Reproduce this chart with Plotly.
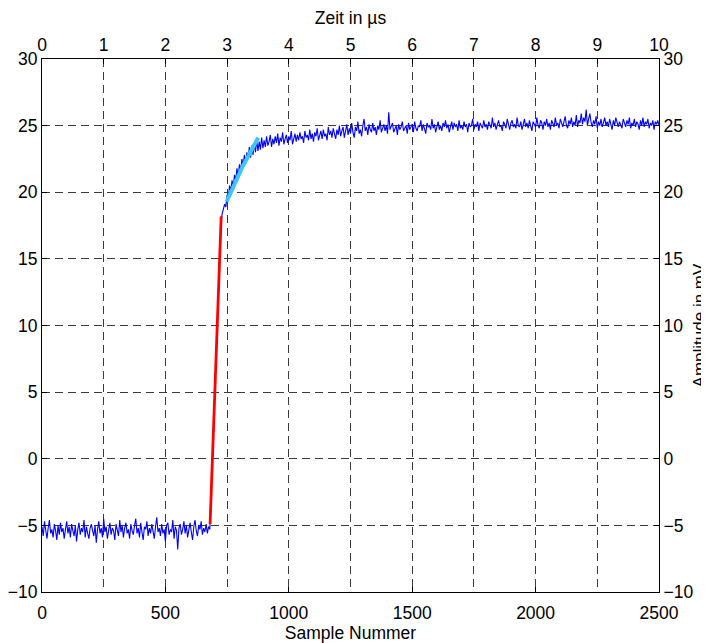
import numpy as np
import plotly.graph_objects as go

# ---- data ----
sample_step = 5
baseline_vals = [
    -5.1,-5.8,-4.7,-5.5,-6.0,-5.2,-4.6,-5.6,-5.3,-5.9,
    -4.9,-5.4,-6.1,-5.0,-5.7,-4.8,-5.5,-5.2,-6.0,-5.3,
    -4.7,-5.6,-5.1,-5.9,-4.9,-5.4,-5.8,-5.0,-6.2,-5.3,
    -4.8,-5.7,-5.2,-5.5,-4.6,-5.9,-5.1,-5.6,-6.0,-5.2,
    -4.9,-5.4,-5.8,-5.0,-6.3,-5.3,-4.7,-5.6,-5.2,-5.9,
    -4.5,-5.5,-5.1,-6.0,-5.3,-4.8,-5.7,-5.2,-5.4,-6.1,
    -4.9,-5.3,-5.8,-4.6,-5.5,-5.0,-5.9,-5.2,-4.8,-5.6,
    -5.3,-6.0,-4.9,-5.4,-5.7,-5.0,-4.5,-5.6,-5.2,-5.9,
    -4.8,-5.5,-6.1,-5.1,-5.3,-4.7,-5.8,-5.2,-5.6,-4.9,
    -5.4,-6.0,-5.1,-4.4,-5.5,-5.2,-5.8,-4.9,-5.6,-5.3,
    -6.2,-5.0,-4.8,-5.7,-5.3,-5.5,-4.6,-6.0,-5.1,-5.4,
    -6.8,-5.2,-4.9,-5.7,-5.3,-4.7,-5.6,-5.0,-5.9,-5.2,
    -4.8,-5.5,-6.1,-5.1,-4.6,-5.4,-5.8,-5.0,-5.3,-4.7,
    -5.7,-5.2,-5.5,-4.9,-5.6,-5.1,-5.3,
]
rise_vals = [-2.8,-0.3,2.4,4.9,7.6,10.1,12.8,15.2,17.6,18.4,18.8]
plateau_vals = [
    19.1,18.9,19.8,19.5,20.5,20.1,20.9,20.4,21.3,20.9,
    21.8,21.2,22.1,21.6,22.5,22.0,22.8,22.1,23.0,22.5,
    23.4,22.6,23.5,22.8,23.7,23.0,23.9,23.1,23.8,23.2,
    24.1,23.3,23.9,23.4,24.2,23.5,23.8,24.3,23.4,24.0,
    23.6,24.2,23.7,24.4,23.5,24.1,23.8,24.5,23.6,24.0,
    24.3,23.7,24.2,23.9,24.6,23.6,24.1,24.4,23.8,24.3,
    23.9,24.5,24.0,24.2,23.7,24.6,24.1,24.3,23.9,24.7,
    24.0,24.4,23.8,24.5,24.2,24.8,23.9,24.3,24.6,24.0,
    24.7,24.2,24.4,23.9,24.9,24.3,24.6,24.1,24.8,24.4,
    24.0,24.7,24.3,25.0,24.2,24.6,24.9,24.1,24.5,25.1,
    24.3,24.8,24.4,25.2,24.5,24.1,24.9,24.6,25.3,24.4,
    24.7,24.2,25.0,25.5,24.6,24.9,24.3,25.1,24.7,24.5,
    25.2,24.6,24.9,24.3,25.0,24.7,25.4,24.5,24.8,25.1,
    24.6,25.0,24.4,26.0,24.7,24.9,25.2,24.5,24.8,25.0,
    24.3,25.1,24.7,24.9,25.3,24.6,24.8,25.0,24.4,25.2,
    24.7,24.9,25.1,24.5,25.3,24.8,24.6,25.0,24.9,25.4,
    24.6,25.1,24.8,24.4,25.2,24.9,25.0,24.7,25.5,24.8,
    25.1,24.5,24.9,25.3,24.7,25.0,24.6,25.2,24.9,25.4,
    24.8,25.1,24.5,25.0,25.3,24.7,25.2,24.9,25.1,24.6,
    25.4,24.8,25.0,24.7,25.3,24.9,25.1,24.5,25.2,24.9,
    25.0,25.5,24.7,25.1,24.9,25.3,24.6,25.2,25.0,24.8,
    25.4,24.9,25.1,24.7,25.3,25.0,24.8,25.6,24.9,25.2,
    24.7,25.1,25.4,24.9,25.0,24.6,25.3,25.1,24.8,25.5,
    25.0,24.7,25.2,25.4,24.9,25.1,24.8,25.6,25.0,24.9,
    25.3,24.7,25.1,25.5,24.9,25.2,24.8,25.4,25.0,24.6,
    25.3,25.1,24.9,25.6,25.0,24.8,25.4,25.2,24.7,25.3,
    25.0,25.5,24.9,25.2,24.7,25.4,25.1,24.9,25.6,25.0,
    25.2,24.8,25.5,25.1,24.9,25.3,25.7,25.0,24.8,25.4,
    25.1,25.6,24.9,25.3,25.0,25.8,24.9,25.4,25.2,25.9,
    25.1,25.6,25.3,26.2,25.0,25.5,25.9,25.2,24.9,25.4,
    25.1,25.7,24.8,25.3,25.0,25.5,24.9,25.2,25.6,25.0,
    25.3,24.9,25.5,25.1,24.7,25.4,25.0,25.6,25.2,24.9,
    25.3,25.0,24.8,25.5,25.2,24.9,25.4,25.1,25.6,24.8,
    25.2,25.0,25.5,24.9,25.3,25.1,24.7,25.4,25.0,25.6,
    24.9,25.3,25.1,25.5,24.8,25.2,25.0,25.4,24.7,25.3,
    25.1,25.4,25.0,
]
signal_y = baseline_vals + rise_vals + plateau_vals
signal_x = list(range(0, sample_step * len(signal_y), sample_step))

red_x = [681, 726]
red_y = [-4.9, 18.2]
cyan_x = [748, 812, 876]
cyan_y = [19.3, 21.9, 24.1]

x_ticks = [0, 500, 1000, 1500, 2000, 2500]
time_ticks = list(range(0, 11))
y_ticks = list(range(-10, 31, 5))

FONT = "Liberation Sans, Arial, sans-serif"
FS = 17.5

fig = go.Figure()
fig.add_trace(go.Scatter(x=signal_x, y=signal_y, mode="lines",
                         line=dict(color="#0000FF", width=1.1), showlegend=False))
fig.add_trace(go.Scatter(x=red_x, y=red_y, mode="lines",
                         line=dict(color="#FF0000", width=2.8), showlegend=False))
fig.add_trace(go.Scatter(x=cyan_x, y=cyan_y, mode="lines",
                         line=dict(color="#3CC8F0", width=4), showlegend=False))
# invisible trace to activate the top / right axes
fig.add_trace(go.Scatter(x=[0, 10], y=[-10, 30], xaxis="x2", yaxis="y2",
                         mode="markers", marker=dict(opacity=0), showlegend=False,
                         hoverinfo="skip"))

grid = dict(showgrid=True, gridcolor="#3a3a3a", gridwidth=1, griddash="8px,5px")
common = dict(showline=True, linecolor="black", linewidth=1.2, ticks="inside",
              ticklen=5, tickcolor="black", zeroline=False, automargin=False,
              tickfont=dict(family=FONT, size=FS, color="black"))

fig.update_layout(
    width=709, height=643,
    margin=dict(l=34, r=58, t=51, b=59),
    paper_bgcolor="white", plot_bgcolor="white",
    font=dict(family=FONT, size=FS, color="black"),
    xaxis=dict(range=[0, 2500], tickvals=x_ticks, showgrid=False,
               ticklabelstandoff=5,
               title=dict(text="Sample Nummer", font=dict(size=FS), standoff=0),
               **common),
    xaxis2=dict(range=[0, 10], tickvals=time_ticks, overlaying="x", side="top",
                anchor="y", title=dict(text="Zeit in µs", font=dict(size=FS), standoff=6),
                **grid, **common),
    yaxis=dict(range=[-10, 30], tickvals=y_ticks, **grid, **common),
    yaxis2=dict(range=[-10, 30], tickvals=y_ticks, overlaying="y", side="right",
                anchor="x", showgrid=False,
                title=dict(text="Amplitude in mV", font=dict(size=FS - 0.5), standoff=0),
                **common),
)

fig.write_html("out.html")
